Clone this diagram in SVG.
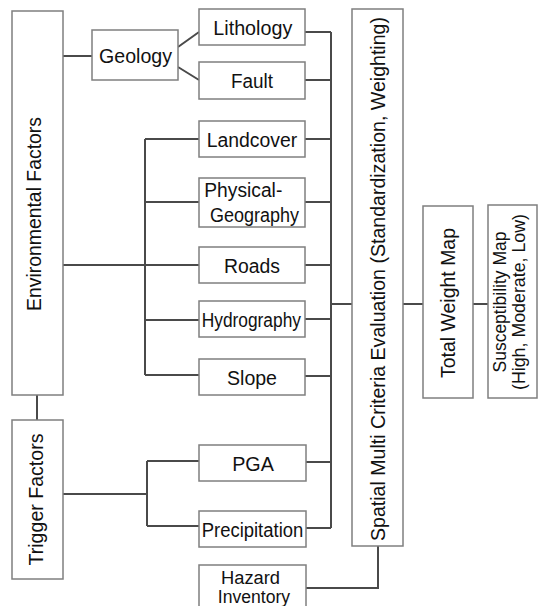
<svg xmlns="http://www.w3.org/2000/svg" width="538" height="606" viewBox="0 0 538 606">
<style>
.box{fill:#fff;stroke:#7f7f7f;stroke-width:1.5}
.con{fill:none;stroke:#4a4a4a;stroke-width:2}
.t{font-family:"Liberation Sans",Arial,sans-serif;font-size:20px;fill:#111;text-anchor:middle}
.s{text-anchor:start}
.sm{font-size:18px}
</style>
<rect width="538" height="606" fill="#fff"/>
<g id="connectors">
<path class="con" d="M63,56H92"/>
<path class="con" d="M178,47L199,32M178,67L199,80"/>
<path class="con" d="M63,265H199M145,139V375M145,139H199M145,202H199M145,320H199M145,375H199"/>
<path class="con" d="M37,395V420"/>
<path class="con" d="M63,494H147M147,461V526M147,461H199M147,526H199"/>
<path class="con" d="M305,32H331M305,80H331M305,139H331M305,202H331M305,265H331M305,319H331M305,376H331M306,462H331M306,528H331M331,32V528"/>
<path class="con" d="M331,304H352M403,304H423M473,304H488"/>
<path class="con" d="M306,588H378V546"/>
</g>
<g id="env"><rect class="box" x="12" y="11" width="51" height="384"/>
<text class="t" transform="translate(41,214) rotate(-90)" textLength="194" lengthAdjust="spacingAndGlyphs">Environmental Factors</text></g>
<g id="geology"><rect class="box" x="92" y="30" width="86" height="50"/>
<text class="t" x="135.5" y="62.5" textLength="73" lengthAdjust="spacingAndGlyphs">Geology</text></g>
<g id="lithology"><rect class="box" x="199" y="9" width="106" height="36"/>
<text class="t" x="252.8" y="34.5" textLength="79" lengthAdjust="spacingAndGlyphs">Lithology</text></g>
<g id="fault"><rect class="box" x="199" y="62" width="106" height="37"/>
<text class="t" x="252" y="87.5" textLength="42" lengthAdjust="spacingAndGlyphs">Fault</text></g>
<g id="landcover"><rect class="box" x="199" y="121" width="106" height="36"/>
<text class="t" x="252" y="146.5" textLength="90.6" lengthAdjust="spacingAndGlyphs">Landcover</text></g>
<g id="physical"><rect class="box" x="199" y="178" width="106" height="49"/>
<text class="t s" x="204.3" y="197.3" textLength="78" lengthAdjust="spacingAndGlyphs">Physical-</text>
<text class="t s" x="210" y="222" textLength="89" lengthAdjust="spacingAndGlyphs">Geography</text></g>
<g id="roads"><rect class="box" x="199" y="247" width="106" height="36"/>
<text class="t" x="252" y="272.5" textLength="56" lengthAdjust="spacingAndGlyphs">Roads</text></g>
<g id="hydrography"><rect class="box" x="199" y="301" width="106" height="36"/>
<text class="t s" x="201.7" y="327" textLength="99.3" lengthAdjust="spacingAndGlyphs">Hydrography</text></g>
<g id="slope"><rect class="box" x="199" y="359" width="106" height="36"/>
<text class="t" x="252" y="384.5" textLength="50" lengthAdjust="spacingAndGlyphs">Slope</text></g>
<g id="trigger"><rect class="box" x="12" y="420" width="51" height="159"/>
<text class="t" transform="translate(43,499.5) rotate(-90)" textLength="132" lengthAdjust="spacingAndGlyphs">Trigger Factors</text></g>
<g id="pga"><rect class="box" x="199" y="445" width="107" height="36"/>
<text class="t" x="253" y="470.5" textLength="41.7" lengthAdjust="spacingAndGlyphs">PGA</text></g>
<g id="precipitation"><rect class="box" x="199" y="511" width="107" height="36"/>
<text class="t s" x="201.7" y="536.5" textLength="101.6" lengthAdjust="spacingAndGlyphs">Precipitation</text></g>
<g id="hazard"><rect class="box" x="199" y="565" width="107" height="50"/>
<text class="t sm" x="250.5" y="584.3" textLength="59" lengthAdjust="spacingAndGlyphs">Hazard</text>
<text class="t sm" x="253.9" y="603.3" textLength="72.3" lengthAdjust="spacingAndGlyphs">Inventory</text></g>
<g id="smce"><rect class="box" x="352" y="9" width="51" height="537"/>
<text class="t" transform="translate(384.5,279) rotate(-90)" textLength="524" lengthAdjust="spacingAndGlyphs">Spatial Multi Criteria Evaluation (Standardization, Weighting)</text></g>
<g id="total"><rect class="box" x="423" y="206" width="50" height="192"/>
<text class="t" transform="translate(455,303) rotate(-90)" textLength="150" lengthAdjust="spacingAndGlyphs">Total Weight Map</text></g>
<g id="susceptibility"><rect class="box" x="488" y="205" width="49" height="193"/>
<text class="t sm" transform="translate(506,302) rotate(-90)" textLength="141" lengthAdjust="spacingAndGlyphs">Susceptibility Map</text>
<text class="t sm" transform="translate(524.5,302) rotate(-90)" textLength="176" lengthAdjust="spacingAndGlyphs">(High, Moderate, Low)</text></g>
</svg>
